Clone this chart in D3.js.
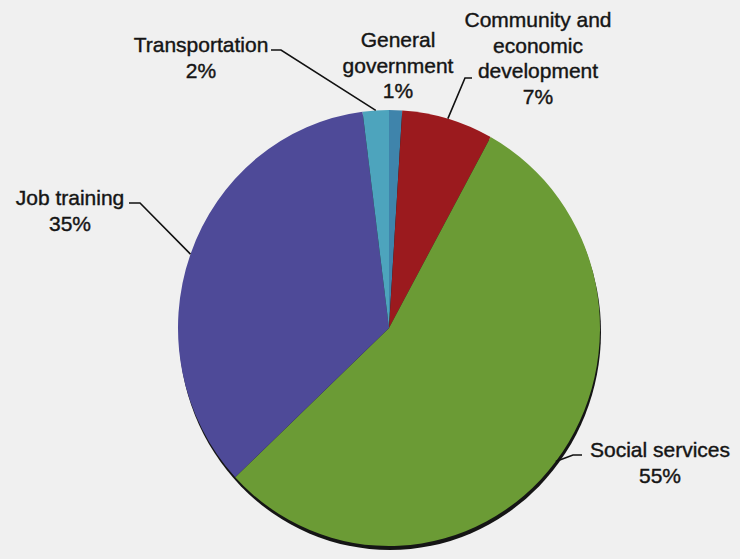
<!DOCTYPE html>
<html>
<head>
<meta charset="utf-8">
<script src="https://cdn.jsdelivr.net/npm/d3@7"></script>
<style>
  html, body { margin: 0; padding: 0; background: #f0f0f0; }
  svg { display: block; }
</style>
</head>
<body>
<div id="chart"></div>
<script>
// slices, clockwise from 12 o'clock
const categories = ["General government", "Community and economic development", "Social services", "Job training", "Transportation"];
const shares = [1, 7, 55, 35, 2];
const labelLines = [
  ["General", "government", "1%"],
  ["Community and", "economic", "development", "7%"],
  ["Social services", "55%"],
  ["Job training", "35%"],
  ["Transportation", "2%"]
];
const colors = ["#3f84ab", "#9b1a1e", "#6b9b35", "#4e4a98", "#4da4bd"];

const width = 740, height = 559;
const cx = 389, cy = 328, rx = 211, ry = 218;
const lineH = 25.5;

// where the label text sits and where its leader line bends
const labelLayout = [
  { x: 398, y: 47, elbow: null },
  { x: 538, y: 27, elbow: [[472, 78], [465, 78]] },
  { x: 660, y: 457, elbow: [[582, 455], [573, 455]] },
  { x: 70, y: 205, elbow: [[129, 203], [140, 203]] },
  { x: 201, y: 52, elbow: [[271, 50], [281, 50]] }
];

const svg = d3.select("#chart").append("svg")
  .attr("width", width)
  .attr("height", height);

svg.append("rect")
  .attr("width", width).attr("height", height)
  .attr("fill", "#f0f0f0");

const pie = d3.pie().sort(null).value(d => d);
const arcs = pie(shares);
const arc = d3.arc().innerRadius(0).outerRadius(rx);

// shadow under the pie
svg.append("ellipse")
  .attr("cx", cx + 1).attr("cy", cy + 4)
  .attr("rx", rx).attr("ry", ry)
  .attr("fill", "#151515");

const g = svg.append("g")
  .attr("transform", `translate(${cx},${cy}) scale(1,${ry / rx})`);

g.selectAll("path").data(arcs)
  .enter().append("path")
  .attr("d", arc)
  .attr("fill", (d, i) => colors[i]);

// point on the pie edge at the middle of each slice
const edgePoint = d => {
  const a = (d.startAngle + d.endAngle) / 2;
  return [cx + rx * Math.sin(a), cy - ry * Math.cos(a)];
};

const line = d3.line();
arcs.forEach((d, i) => {
  const lay = labelLayout[i];
  if (!lay.elbow) return;
  svg.append("path")
    .attr("d", line([...lay.elbow, edgePoint(d)]))
    .attr("fill", "none")
    .attr("stroke", "#111")
    .attr("stroke-width", 1.6);
});

const labels = svg.selectAll("text.label").data(labelLines)
  .enter().append("text")
  .attr("class", "label")
  .attr("x", (d, i) => labelLayout[i].x)
  .attr("y", (d, i) => labelLayout[i].y)
  .attr("text-anchor", "middle")
  .attr("font-family", "'Liberation Sans', Arial, sans-serif")
  .attr("font-size", 21)
  .attr("fill", "#151515")
  .attr("stroke", "#151515")
  .attr("stroke-width", 0.4);

labels.selectAll("tspan").data((d, i) => d.map(t => ({ t, x: labelLayout[i].x })))
  .enter().append("tspan")
  .attr("x", d => d.x)
  .attr("dy", (d, j) => j === 0 ? 0 : lineH)
  .text(d => d.t);
</script>
</body>
</html>
